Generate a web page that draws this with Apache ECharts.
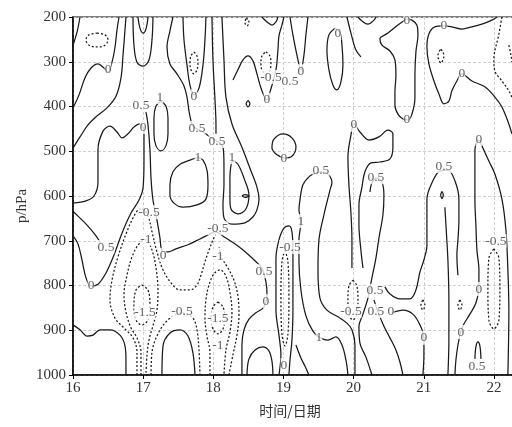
<!DOCTYPE html>
<html><head><meta charset="utf-8">
<script src="https://cdn.jsdelivr.net/npm/echarts@6/dist/echarts.min.js"></script>
<style>html,body{margin:0;padding:0;background:#fff}#c{width:512px;height:427px}</style>
</head><body><div id="c"></div>
<script>
// ---- axis settings (data units) ----
const xTicks = [16,17,18,19,20,21,22];
const yTicks = [200,300,400,500,600,700,800,900,1000];

// ---- solid contours (day, hPa) ----
const c_s1 = [[16,263],[16.057,234],[16.1,200]];
const c_s2 = [[16,403],[16.086,374],[16.171,336],[16.257,314],[16.356,305],[16.442,314],[16.499,323],[16.556,301],[16.599,267],[16.627,229],[16.656,200]];
const c_s3 = [[16,493],[16.1,468],[16.214,441],[16.342,421],[16.485,403],[16.613,377],[16.684,336],[16.713,285],[16.741,229],[16.755,200]];
const c_s4 = [[16.926,200],[16.955,225],[16.998,236],[17.04,227],[17.069,200]];
const c_s5 = [[16.855,200],[16.869,263],[16.912,301],[16.998,310],[17.083,296],[17.126,251],[17.14,200]];
const c_s6 = [[16,616],[16.185,611],[16.299,600],[16.356,569],[16.356,497],[16.428,455],[16.527,444],[16.627,457],[16.698,470],[16.784,461],[16.869,446],[16.955,439],[17.012,457],[17.012,520],[16.998,582],[16.941,609],[16.827,638],[16.698,683],[16.584,732],[16.47,772],[16.356,797],[16.257,801],[16.185,783],[16.128,743],[16.071,707],[16,689]];
const c_s7 = [[16,634],[16.071,645],[16.2,665],[16.328,689],[16.399,707]];
const c_s8 = [[17.04,412],[17.069,441],[17.097,497],[17.112,560],[17.14,609],[17.197,654],[17.24,694],[17.268,721],[17.354,725],[17.468,718],[17.639,709],[17.81,696],[17.952,685],[18.024,680],[18.18,694],[18.351,712],[18.494,730],[18.608,747],[18.693,761],[18.75,792],[18.765,819],[18.722,848],[18.608,861],[18.508,875],[18.437,899],[18.408,933],[18.408,1000]];
const c_s9 = [[17.254,388],[17.325,399],[17.354,426],[17.354,461],[17.325,488],[17.254,499],[17.183,488],[17.154,461],[17.154,426],[17.183,399],[17.254,388]];
const c_s10 = [[17.425,200],[17.382,231],[17.34,267],[17.382,305],[17.482,327],[17.582,354],[17.625,379],[17.653,410],[17.682,432],[17.71,444],[17.853,457],[17.952,468],[18.138,491],[18.152,531],[18.152,575],[18.138,620],[18.152,649],[18.266,663],[18.451,660],[18.565,647],[18.622,631],[18.651,607],[18.622,580],[18.537,544],[18.408,491],[18.266,439],[18.18,379],[18.152,296],[18.123,200]];
const c_s11 = [[18.237,607],[18.237,560],[18.28,522],[18.351,529],[18.437,560],[18.508,598],[18.465,629],[18.351,640],[18.252,629],[18.237,607]];
const c_s12 = [[17.781,513],[17.667,520],[17.525,529],[17.425,546],[17.382,575],[17.382,598],[17.439,616],[17.568,625],[17.767,620],[17.895,607],[17.924,575],[17.91,542],[17.853,520],[17.781,513]];
const c_s15 = [[17.568,200],[17.582,251],[17.625,307],[17.667,352],[17.724,374],[17.796,359],[17.853,307],[17.881,251],[17.895,200]];
const c_s16 = [[17.981,200],[17.995,296],[18.024,385],[18.038,441],[18.038,461]];
const c_s17 = [[16,888],[16.1,899],[16.2,913],[16.285,911],[16.385,899],[16.527,899],[16.67,911],[16.741,935],[16.755,967],[16.755,1000]];
const c_s18 = [[17.268,1000],[17.283,935],[17.382,906],[17.525,899],[17.639,913],[17.71,951],[17.739,1000]];
const c_s19 = [[18.48,1000],[18.508,964],[18.594,944],[18.708,937],[18.793,946],[18.836,969],[18.85,1000]];
const c_s20 = [[18.936,1000],[18.964,955],[18.936,911],[18.893,855],[18.893,799],[18.893,739],[18.936,698],[19.007,672],[19.078,667],[19.121,680],[19.135,721],[19.135,788],[19.135,855],[19.121,922],[19.093,967],[19.078,1000]];
const c_s21 = [[19.919,1000],[19.891,967],[19.834,933],[19.748,915],[19.634,922],[19.506,915],[19.42,902],[19.32,868],[19.249,810],[19.221,747],[19.221,698],[19.249,658],[19.221,631],[19.235,609],[19.278,575],[19.378,555],[19.463,549],[19.549,546],[19.634,551],[19.691,569],[19.663,587],[19.577,642],[19.506,698],[19.492,765],[19.52,828],[19.62,855],[19.777,870],[19.905,884],[19.976,899],[20.019,933],[20.019,967],[20.019,1000]];
const c_s21b = [[19.976,761],[19.976,698],[19.962,638],[19.933,575],[19.919,513],[19.962,464],[20.005,439],[20.09,457],[20.218,475],[20.361,468],[20.489,453],[20.56,461],[20.56,491],[20.518,517],[20.375,524],[20.247,526],[20.161,546],[20.119,580],[20.076,620],[20.076,665],[20.104,721],[20.133,761]];
const c_s22 = [[18.28,341],[18.351,318],[18.423,296],[18.494,287],[18.565,298],[18.622,327],[18.693,365],[18.765,385],[18.807,368],[18.893,318],[18.921,274],[18.936,242],[18.978,218],[19.007,200]];
const c_s36 = [[18.693,200],[18.765,211],[18.836,218],[18.893,211],[18.921,200]];
const c_s23 = [[19.093,200],[19.135,240],[19.192,285],[19.249,318],[19.292,285],[19.32,240],[19.349,200]];
const c_s24 = [[19.734,225],[19.648,240],[19.62,274],[19.648,318],[19.705,352],[19.762,363],[19.819,345],[19.848,307],[19.834,263],[19.805,234],[19.734,225]];
const c_s25 = [[20.062,200],[20.119,209],[20.204,216],[20.29,207],[20.318,200]];
const c_s26 = [[19.905,200],[19.962,236],[20.033,274],[20.104,289]];
const c_s27 = [[20.76,204],[20.632,218],[20.489,236],[20.375,249],[20.404,263],[20.518,276],[20.589,296],[20.603,330],[20.589,368],[20.589,397],[20.632,417],[20.703,428],[20.774,430],[20.831,417],[20.874,381],[20.874,330],[20.888,278],[20.917,240],[20.902,218],[20.831,207],[20.76,204]];
const c_s28 = [[22.042,200],[21.971,207],[21.829,216],[21.686,222],[21.544,227],[21.401,222],[21.287,220],[21.159,222],[21.073,238],[21.045,267],[21.073,305],[21.145,343],[21.216,372],[21.287,394],[21.358,388],[21.401,365],[21.472,343],[21.544,327],[21.686,343],[21.871,356],[22.014,379],[22.114,401],[22.213,439],[22.256,461]];
const c_s29 = [[20.233,591],[20.261,571],[20.332,560],[20.404,569],[20.432,598],[20.418,642],[20.361,694],[20.318,739],[20.261,783],[20.204,828],[20.133,864],[20.076,891],[20.09,929],[20.176,960],[20.261,1000]];
const c_s29b = [[20.29,832],[20.347,859],[20.432,891],[20.518,917],[20.603,944],[20.66,971],[20.703,1000]];
const c_s30 = [[20.446,803],[20.518,819],[20.66,830],[20.803,830],[20.888,810],[20.945,770],[21.002,743],[21.045,710],[21.045,665],[21.045,607],[21.13,566],[21.23,544],[21.344,542],[21.444,566],[21.501,607],[21.501,654],[21.487,698],[21.472,732],[21.487,777]];
const c_s31 = [[20.546,861],[20.703,855],[20.845,864],[20.945,888],[21.002,917],[21.002,955],[20.988,1000]];
const c_s32 = [[21.301,625],[21.316,665],[21.344,743],[21.358,832],[21.358,922],[21.344,1000]];
const c_s33 = [[22.199,1000],[22.213,855],[22.199,765],[22.171,676],[22.114,607],[22.014,551],[21.928,522],[21.829,488],[21.786,475],[21.729,497],[21.729,553],[21.729,609],[21.743,665],[21.758,721],[21.786,765],[21.786,803],[21.743,839],[21.658,864],[21.572,886],[21.53,902],[21.487,933],[21.458,967],[21.444,1000]];
const c_s34 = [[21.729,964],[21.743,937],[21.772,926],[21.8,935],[21.815,964]];
const c_s35 = [[19.007,515],[18.907,508],[18.836,493],[18.864,473],[18.993,461],[19.121,470],[19.178,491],[19.121,511],[19.007,515]];
const c_s37 = [[19.178,933],[19.249,962],[19.306,980],[19.363,1000]];
const c_t1 = [[18.466,394],[18.494,387],[18.522,394],[18.494,401],[18.466,394]];
const c_t2 = [[18.408,600],[18.451,597],[18.508,600],[18.451,603],[18.408,600]];
const c_t3 = [[21.24,598],[21.259,590],[21.278,598],[21.259,606],[21.24,598]];

// ---- dashed (negative) contours ----
const d_1 = [[16.342,236],[16.456,240],[16.499,251],[16.456,263],[16.342,267],[16.228,263],[16.185,251],[16.228,240],[16.342,236]];
const d_2 = [[17.724,278],[17.767,287],[17.781,303],[17.767,318],[17.724,327],[17.682,318],[17.667,303],[17.682,287],[17.724,278]];
const d_3 = [[18.75,278],[18.807,287],[18.822,303],[18.807,318],[18.75,327],[18.693,318],[18.679,303],[18.693,287],[18.75,278]];
const d_4 = [[18.465,204],[18.494,204],[18.508,213],[18.48,220],[18.451,213],[18.465,204]];
const d_5 = [[16.983,799],[17.069,810],[17.097,844],[17.069,877],[16.983,888],[16.898,877],[16.869,844],[16.898,810],[16.983,799]];
const d_6 = [[16.969,1000],[16.969,949],[16.912,917],[16.827,895],[16.755,859],[16.727,821],[16.77,777],[16.841,736],[16.941,707],[17.04,698],[17.126,721],[17.183,761],[17.211,810],[17.197,855],[17.14,890],[17.083,922],[17.055,955],[17.04,1000]];
const d_7 = [[16.912,1000],[16.912,949],[16.855,917],[16.727,895],[16.599,873],[16.527,832],[16.556,788],[16.641,736],[16.755,685],[16.869,645],[16.969,627],[17.069,645],[17.126,680],[17.197,725],[17.283,765],[17.397,794],[17.525,810],[17.667,810],[17.767,799],[17.824,777],[17.881,747],[17.938,721],[17.995,698],[18.038,685]];
const d_8 = [[17.112,1000],[17.126,949],[17.211,908],[17.354,877],[17.553,861],[17.71,873],[17.767,899],[17.796,944],[17.81,1000]];
const d_9 = [[18.066,837],[18.138,848],[18.166,873],[18.138,897],[18.066,908],[17.995,897],[17.966,873],[17.995,848],[18.066,837]];
const d_10 = [[17.952,1000],[17.952,949],[17.91,913],[17.881,873],[17.895,832],[17.938,799],[18.009,774],[18.095,765],[18.18,779],[18.237,815],[18.266,859],[18.237,904],[18.18,944],[18.152,1000]];
const d_11 = [[18.223,1000],[18.28,955],[18.337,911],[18.366,866],[18.351,823],[18.294,788],[18.209,761],[18.123,739],[18.081,714]];
const d_12 = [[19.021,721],[19.064,747],[19.078,828],[19.064,908],[19.021,935],[18.978,908],[18.964,828],[18.978,747],[19.021,721]];
const d_13 = [[19.99,788],[20.047,801],[20.062,832],[20.047,864],[19.99,877],[19.933,864],[19.919,832],[19.933,801],[19.99,788]];
const d_14 = [[20.988,832],[21.016,844],[20.988,855],[20.959,844],[20.988,832]];
const d_15 = [[21.515,832],[21.544,844],[21.515,855],[21.487,844],[21.515,832]];
const d_16 = [[21.999,718],[22.071,739],[22.085,808],[22.071,877],[21.999,897],[21.928,877],[21.914,808],[21.928,739],[21.999,718]];
const d_17 = [[22.114,200],[22.071,238],[21.999,296],[22.014,321],[22.114,343],[22.213,365],[22.256,379]];
const d_18 = [[22.213,263],[22.242,285],[22.256,301]];
const d_19 = [[21.244,272],[21.273,278],[21.287,287],[21.273,296],[21.244,303],[21.216,296],[21.202,287],[21.216,278],[21.244,272]];

// ---- contour labels ----
const labelXY = [[16.499,318],[16.969,397],[17.24,379],[16.998,446],[17.767,448],[18.052,477],[17.781,513],[18.266,513],[17.724,377],[18.822,334],[19.093,343],[18.765,385],[19.249,321],[19.777,236],[20.76,207],[20.76,430],[21.287,220],[21.544,327],[19.007,515],[20.005,441],[19.534,544],[20.318,558],[21.287,533],[21.786,473],[17.083,636],[17.04,696],[16.47,714],[17.283,732],[18.066,672],[18.066,734],[16.257,799],[17.026,861],[17.553,857],[18.066,873],[18.066,933],[18.722,768],[18.75,835],[19.093,714],[19.249,656],[19.506,915],[19.007,978],[19.962,857],[20.304,812],[20.318,857],[20.532,857],[21.002,917],[21.786,808],[21.53,904],[21.758,980],[22.028,701]];
const labelText = ['0','0.5','1','0','0.5','0.5','1','1','0','-0.5','0.5','0','0','0','0','0','0','0','0','0','0.5','0.5','0.5','0','-0.5','-1','0.5','0','-0.5','-1','0','-1.5','-0.5','-1.5','-1','0.5','0','-0.5','1','1','0','-0.5','0.5','0.5','0','0','0','0','0.5','-0.5'];

const solidLines = [c_s1,c_s2,c_s3,c_s4,c_s5,c_s6,c_s7,c_s8,c_s9,c_s10,c_s11,c_s12,c_s15,c_s16,c_s17,c_s18,c_s19,c_s20,c_s21,c_s21b,c_s22,c_s36,c_s23,c_s24,c_s25,c_s26,c_s27,c_s28,c_s29,c_s29b,c_s30,c_s31,c_s32,c_s33,c_s34,c_s35,c_s37,c_t1,c_t2,c_t3];
const dashedLines = [d_1,d_2,d_3,d_4,d_5,d_6,d_7,d_8,d_9,d_10,d_11,d_12,d_13,d_14,d_15,d_16,d_17,d_18,d_19];

const series = [];
solidLines.forEach(d => series.push({type:'line', data:d, symbol:'none', smooth:0.35, silent:true, animation:false,
  lineStyle:{color:'#1a1a1a', width:1.25}, z:2}));
dashedLines.forEach(d => series.push({type:'line', data:d, symbol:'none', smooth:0.35, silent:true, animation:false,
  lineStyle:{color:'#1a1a1a', width:1.25, type:[2,2]}, z:2}));
series.push({type:'scatter', silent:true, animation:false, z:5, symbolSize:1,
  itemStyle:{color:'rgba(0,0,0,0)'},
  data: labelXY.map((v,i)=>({value:v, name:labelText[i]})),
  label:{show:true, position:'inside', formatter:'{b}', fontFamily:'Liberation Serif', fontSize:13.5, color:'#3a3a3a',
    backgroundColor:'#fff', padding:[0,0]}});

const chart = echarts.init(document.getElementById('c'), null, {renderer:'canvas'});
const axisFont = {fontFamily:'Liberation Serif', fontSize:15, color:'#333'};
chart.setOption({
  animation:false,
  grid:{left:73, top:17, width:456, height:358, outerBoundsMode:'none', containLabel:false,
    show:true, borderColor:'#000', borderWidth:1.2},
  xAxis:{type:'value', min:xTicks[0], max:22.5, interval:1,
    axisLine:{show:true, onZero:false, lineStyle:{color:'#000', width:1.5}},
    axisTick:{show:true, length:4, lineStyle:{color:'#000'}},
    axisLabel:Object.assign({margin:6, formatter: v => (xTicks.indexOf(v) >= 0 ? String(v) : '')}, axisFont),
    splitLine:{show:true, lineStyle:{type:[3,2], color:'#cfcfcf', width:1}}},
  yAxis:{type:'value', inverse:true, min:yTicks[0], max:yTicks[yTicks.length-1], interval:100,
    axisLine:{show:true, onZero:false, lineStyle:{color:'#000', width:1.5}},
    axisTick:{show:true, length:4, lineStyle:{color:'#000'}},
    axisLabel:Object.assign({margin:7, formatter: v => String(v)}, axisFont),
    splitLine:{show:true, lineStyle:{type:[3,2], color:'#cfcfcf', width:1}}},
  graphic:[
    {type:'text', x:22, y:206, rotation:Math.PI/2, style:{text:'p/hPa', font:'15px "Liberation Serif"', fill:'#333', textAlign:'center', textVerticalAlign:'middle'}},
    {type:'text', x:290, y:411, style:{text:'时间/日期', font:'14px "Noto Sans CJK SC"', fill:'#333', textAlign:'center', textVerticalAlign:'middle'}}
  ],
  series: series
});
</script>
</body></html>
